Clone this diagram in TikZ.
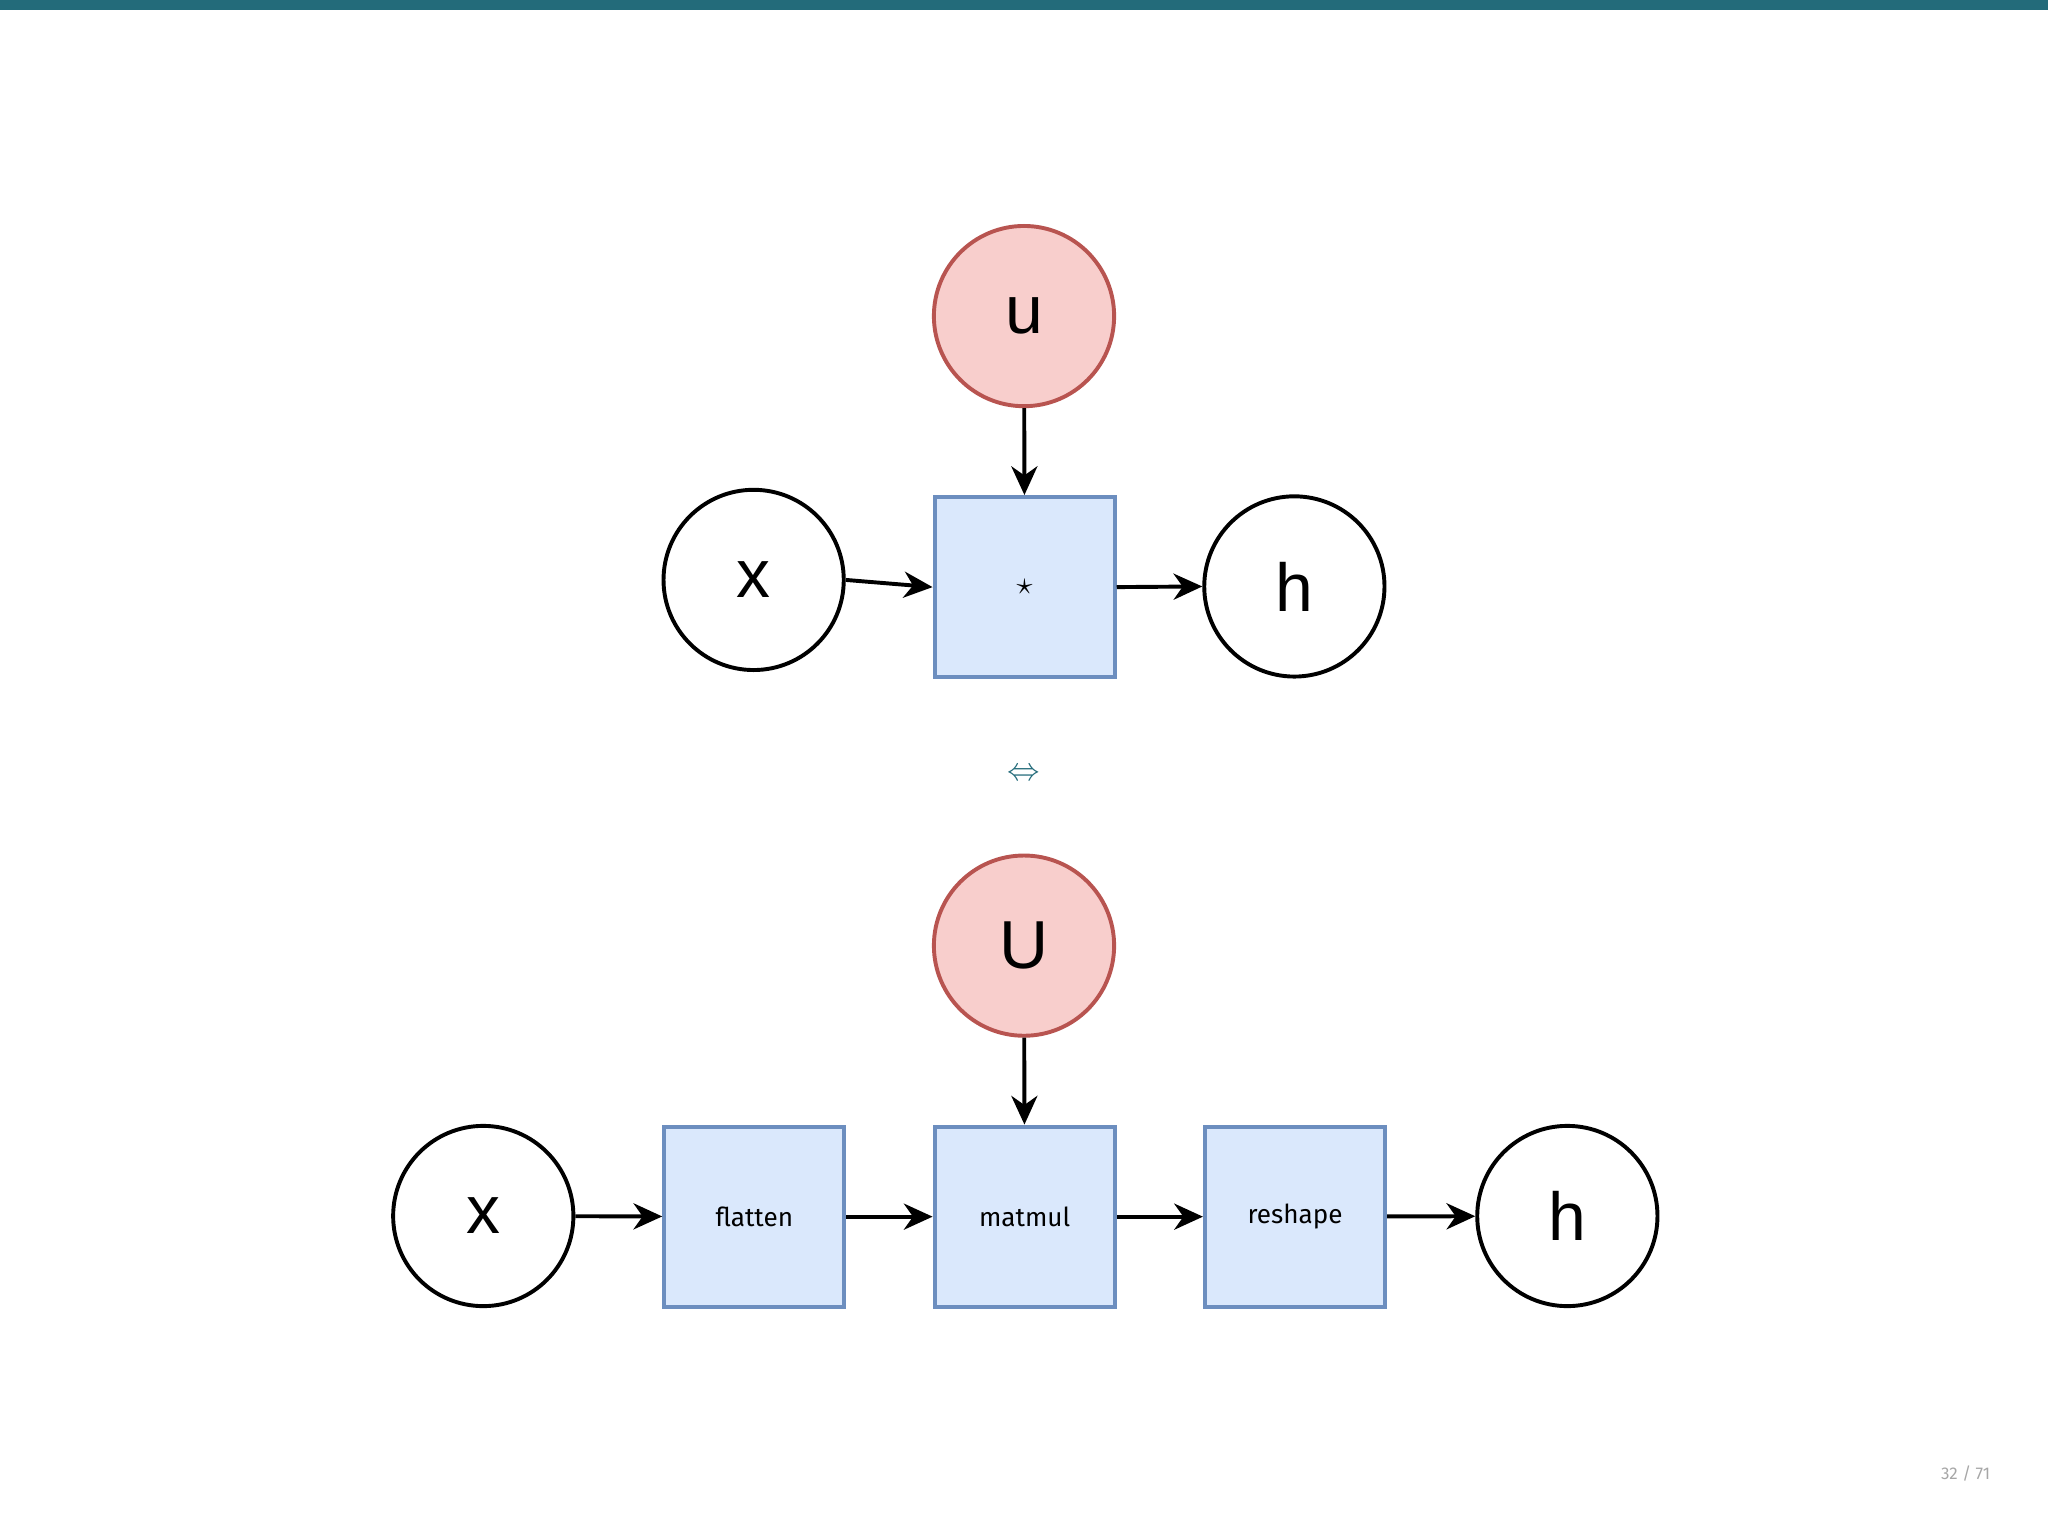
\documentclass[tikz,border=0pt]{standalone}
\usepackage{fontspec}
\setmainfont{Liberation Sans}
\newfontfamily\fira{Fira Sans}
\usepackage{amssymb}
\usetikzlibrary{arrows.meta}
\definecolor{bar}{RGB}{35,107,122}
\definecolor{rfill}{HTML}{F8CECC}
\definecolor{rdraw}{HTML}{B85450}
\definecolor{bfill}{HTML}{DAE8FC}
\definecolor{bdraw}{HTML}{6C8EBF}
\begin{document}
\begin{tikzpicture}[x=1pt,y=-1pt,
  circ/.style={circle,draw=black,line width=3pt,minimum size=138pt,inner sep=0pt,font=\fontsize{52}{52}\selectfont},
  par/.style={circ,draw=rdraw,fill=rfill},
  op/.style={rectangle,draw=bdraw,fill=bfill,line width=3pt,minimum size=138pt,inner sep=0pt,font=\fira\fontsize{20}{24}\selectfont},
  arr/.style={line width=3pt,-{Stealth[length=22pt,width=20pt,inset=7pt]}}]
\useasboundingbox (0,0) rectangle (1568,1174);
\fill[bar] (0,0) rectangle (1568,8);
\node[par] (u) at (784,242) {u};
\node[circ] (x1) at (577,444) {x};
\node[op] (star) at (784.5,449.5) {\fontsize{30}{30}\selectfont$\star$};
\node[circ] (h1) at (991,449) {h};
\draw[arr] (u) -- (star);
\draw[arr] (x1.east) -- (star.west);
\draw[arr] (star.east) -- (h1.west);
\node[text=bar,font=\fontsize{30}{30}\selectfont] (eq) at (784,593) {$\Leftrightarrow$};
\node[par] (U) at (784,724) {U};
\node[circ] (x2) at (370,931) {x};
\node[op] (fl) at (577.5,931.5) {flatten};
\node[op] (mm) at (784.5,931.5) {matmul};
\node[op] (rs) at (991.5,931.5) {reshape};
\node[circ] (h2) at (1200,931) {h};
\draw[arr] (U) -- (mm);
\draw[arr] (x2) -- (fl);
\draw[arr] (fl) -- (mm);
\draw[arr] (mm) -- (rs);
\draw[arr] (rs) -- (h2);
\node[text=gray!70,font=\fira\fontsize{13}{15}\selectfont] (pg) at (1505,1128) {32 / 71};
\end{tikzpicture}
\end{document}
